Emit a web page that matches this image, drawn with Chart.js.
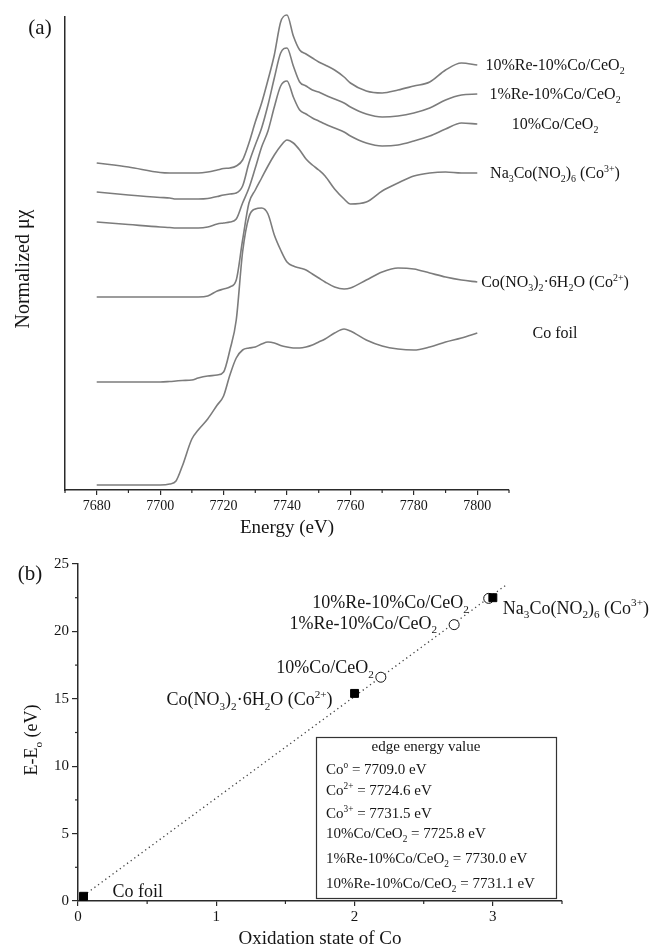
<!DOCTYPE html>
<html lang="en">
<head>
  <meta charset="UTF-8" />
  <title>Co K-edge XANES</title>
  <script src="https://cdn.jsdelivr.net/npm/chart.js"></script>
  <style>
    body { margin: 0; background: #fff; }
    canvas { position: absolute; left: 0; }
    #panelA { top: 0; }
    #panelB { top: 540px; }
  </style>
</head>
<body>

<canvas id="panelA" width="656" height="540"></canvas>
<canvas id="panelB" width="656" height="409"></canvas>

<script>
  // ---- (a) XANES spectra, stacked (normalized mu + offset, a.u.) ----
  const energy = [7680, 7690, 7700, 7703, 7705, 7707, 7710, 7712, 7715, 7718, 7720, 7722, 7724, 7726, 7728, 7730, 7732, 7734, 7736, 7738,
                  7740, 7742, 7744, 7746, 7748, 7750, 7752, 7755, 7758, 7760, 7765, 7770, 7775, 7780, 7785, 7790, 7795, 7800];
  const re10Co10 = [3.27, 3.23, 3.175, 3.17, 3.17, 3.17, 3.17, 3.17, 3.18, 3.20, 3.215, 3.22, 3.24, 3.30, 3.47, 3.68, 3.87, 4.10, 4.35, 4.68,
                    4.75, 4.54, 4.40, 4.36, 4.32, 4.28, 4.25, 4.20, 4.13, 4.07, 3.99, 3.97, 4.00, 4.04, 4.08, 4.20, 4.27, 4.25];
  const re1Co10 = [2.98, 2.95, 2.925, 2.92, 2.91, 2.91, 2.91, 2.91, 2.915, 2.935, 2.95, 2.96, 2.97, 3.04, 3.27, 3.45, 3.62, 3.85, 4.12, 4.37,
                   4.42, 4.24, 4.08, 4.04, 4.00, 3.98, 3.95, 3.91, 3.87, 3.83, 3.76, 3.73, 3.74, 3.77, 3.82, 3.90, 3.95, 3.96];
  const co10 = [2.68, 2.655, 2.63, 2.625, 2.62, 2.62, 2.62, 2.62, 2.63, 2.66, 2.67, 2.68, 2.71, 2.87, 3.02, 3.22, 3.43, 3.59, 3.83, 4.04,
                4.09, 3.93, 3.80, 3.76, 3.72, 3.69, 3.66, 3.62, 3.58, 3.54, 3.47, 3.44, 3.45, 3.49, 3.54, 3.61, 3.67, 3.66];
  const naCo = [1.93, 1.93, 1.93, 1.93, 1.93, 1.93, 1.93, 1.93, 1.94, 1.99, 2.01, 2.03, 2.10, 2.50, 2.87, 3.00, 3.12, 3.24, 3.35, 3.44,
                3.50, 3.47, 3.40, 3.31, 3.25, 3.20, 3.14, 3.01, 2.91, 2.86, 2.88, 2.99, 3.07, 3.14, 3.17, 3.18, 3.17, 3.17];
  const coNitrate = [1.08, 1.08, 1.08, 1.085, 1.09, 1.095, 1.10, 1.12, 1.14, 1.15, 1.18, 1.40, 1.70, 2.38, 2.73, 2.81, 2.82, 2.76, 2.55, 2.40,
                     2.28, 2.24, 2.22, 2.20, 2.16, 2.12, 2.08, 2.03, 2.01, 2.02, 2.10, 2.18, 2.22, 2.21, 2.17, 2.13, 2.10, 2.08];
  const coFoil = [0.05, 0.05, 0.05, 0.06, 0.09, 0.24, 0.51, 0.60, 0.71, 0.85, 0.94, 1.15, 1.32, 1.40, 1.42, 1.43, 1.46, 1.48, 1.47, 1.445,
                  1.43, 1.42, 1.42, 1.43, 1.45, 1.48, 1.51, 1.57, 1.61, 1.59, 1.50, 1.44, 1.41, 1.40, 1.43, 1.48, 1.52, 1.57];
  const spectrumNames = ['10%Re-10%Co/CeO_2', '1%Re-10%Co/CeO_2', '10%Co/CeO_2',
                         'Na_3Co(NO_2)_6 (Co^{3+})', 'Co(NO_3)_2·6H_2O (Co^{2+})', 'Co foil'];
  const energyTicks = [7680, 7700, 7720, 7740, 7760, 7780, 7800];
  const energyMinor = [7670, 7690, 7710, 7730, 7750, 7770, 7790, 7810];

  // ---- (b) edge shift vs oxidation state ----
  const refNames = ['Co foil', 'Co(NO_3)_2·6H_2O (Co^{2+})', 'Na_3Co(NO_2)_6 (Co^{3+})'];
  const refOx = [0.04, 2.0, 3.0];
  const refShift = [0.35, 15.4, 22.5];
  const catNames = ['10%Co/CeO_2', '1%Re-10%Co/CeO_2', '10%Re-10%Co/CeO_2'];
  const catOx = [2.19, 2.72, 2.97];
  const catShift = [16.6, 20.5, 22.45];
  const fitOx = [0.04, 3.09];
  const fitShift = [0.4, 23.4];
  const edgeNames = ['Co^o', 'Co^{2+}', 'Co^{3+}', '10%Co/CeO_2', '1%Re-10%Co/CeO_2', '10%Re-10%Co/CeO_2'];
  const edgeEnergy = [7709.0, 7724.6, 7731.5, 7725.8, 7730.0, 7731.1];
  const oxTicks = [0, 1, 2, 3];
  const oxMinor = [0.5, 1.5, 2.5, 3.5];
  const shiftTicks = [0, 5, 10, 15, 20, 25];
  const shiftMinor = [2.5, 7.5, 12.5, 17.5, 22.5];

  const FONT = '"Liberation Serif", "Times New Roman", serif';
  const INK = '#151515';
  const AXIS = '#2a2a2a';
  Chart.defaults.font.family = FONT;
  Chart.defaults.color = INK;

  // text with _sub and ^sup pieces
  function parseRich(str) {
    const segs = [];
    let buf = '', i = 0;
    while (i < str.length) {
      const c = str[i];
      if (c === '_' || c === '^') {
        if (buf) { segs.push({ t: buf, k: 0 }); buf = ''; }
        let txt;
        if (str[i + 1] === '{') {
          const j = str.indexOf('}', i);
          txt = str.slice(i + 2, j);
          i = j + 1;
        } else {
          txt = str[i + 1];
          i += 2;
        }
        segs.push({ t: txt, k: c === '_' ? -1 : 1 });
      } else {
        buf += c;
        i++;
      }
    }
    if (buf) segs.push({ t: buf, k: 0 });
    return segs;
  }

  function drawRich(ctx, str, x, y, size, align, rotate) {
    const segs = parseRich(str);
    const small = size * 0.62;
    let w = 0;
    segs.forEach(s => {
      ctx.font = (s.k ? small : size) + 'px ' + FONT;
      s.w = ctx.measureText(s.t).width;
      w += s.w;
    });
    ctx.save();
    ctx.translate(x, y);
    if (rotate) ctx.rotate(-Math.PI / 2);
    let cx = align === 'center' ? -w / 2 : align === 'right' ? -w : 0;
    ctx.textAlign = 'left';
    ctx.textBaseline = 'alphabetic';
    ctx.fillStyle = INK;
    const base = size * 0.33;
    segs.forEach(s => {
      ctx.font = (s.k ? small : size) + 'px ' + FONT;
      const dy = s.k === -1 ? size * 0.26 : s.k === 1 ? -size * 0.4 : 0;
      ctx.fillText(s.t, cx, base + dy);
      cx += s.w;
    });
    ctx.restore();
  }

  function tickLine(ctx, x1, y1, x2, y2) {
    ctx.beginPath();
    ctx.moveTo(x1, y1);
    ctx.lineTo(x2, y2);
    ctx.stroke();
  }

  const axisGrid = { display: true, drawOnChartArea: false, drawTicks: true, tickLength: 5, color: AXIS, lineWidth: 1.2 };
  const axisBorder = { display: true, color: AXIS, width: 1.5 };
  const plainLabel = v => String(v);

  // Grafico (a)
  const spectra = [re10Co10, re1Co10, co10, naCo, coNitrate, coFoil];
  new Chart(document.getElementById('panelA'), {
    type: 'line',
    data: {
      datasets: spectra.map((s, i) => ({
        label: spectrumNames[i],
        data: s.map((v, j) => ({ x: energy[j], y: v })),
        borderColor: '#7c7c7c',
        borderWidth: 1.6,
        pointRadius: 0,
        cubicInterpolationMode: 'monotone',
        clip: false
      }))
    },
    options: {
      responsive: false,
      animation: false,
      layout: { padding: { top: 17, right: 147, left: 0, bottom: 0 } },
      plugins: { legend: { display: false }, tooltip: { enabled: false } },
      scales: {
        x: {
          type: 'linear', min: 7670, max: 7810,
          afterBuildTicks: s => { s.ticks = energyTicks.map(v => ({ value: v })); },
          afterFit: s => { s.height = 50; },
          ticks: { font: { size: 14 }, color: INK, padding: 3, maxRotation: 0, autoSkip: false, callback: plainLabel },
          grid: axisGrid,
          border: axisBorder
        },
        y: {
          min: 0, max: 4.73,
          afterFit: s => { s.width = 65; },
          ticks: { display: false },
          grid: { display: false },
          border: axisBorder
        }
      }
    },
    plugins: [{
      id: 'decorA',
      afterDraw(chart) {
        const { ctx, chartArea: ca, scales: { x, y } } = chart;
        ctx.save();
        ctx.strokeStyle = AXIS;
        ctx.lineWidth = 1.2;
        energyMinor.forEach(v => {
          const px = x.getPixelForValue(v);
          tickLine(ctx, px, ca.bottom, px, ca.bottom + 3);
        });
        chart.data.datasets.forEach((ds, i) => {
          const last = ds.data[ds.data.length - 1];
          drawRich(ctx, spectrumNames[i], ca.right + 46, y.getPixelForValue(last.y), 16, 'center');
        });
        drawRich(ctx, 'Energy (eV)', (ca.left + ca.right) / 2, 527, 19, 'center');
        drawRich(ctx, 'Normalized μχ', 22, 269, 20, 'center', true);
        drawRich(ctx, '(a)', 40, 27, 21, 'center');
        ctx.restore();
      }
    }]
  });

  // Grafico (b)
  const refLabelPos = [[29, -5, 'left'], [-22, 6, 'right'], [10, 10, 'left']];
  const catLabelPos = [[-7, -10, 'right'], [-17, -2, 'right'], [-20, 4, 'right']];

  new Chart(document.getElementById('panelB'), {
    type: 'scatter',
    data: {
      datasets: [
        {
          label: 'fit',
          data: fitOx.map((v, i) => ({ x: v, y: fitShift[i] })),
          showLine: true,
          borderColor: '#444',
          borderWidth: 1.3,
          borderDash: [1.3, 3.2],
          pointRadius: 0,
          order: 3,
          clip: false
        },
        {
          label: 'references',
          data: refOx.map((v, i) => ({ x: v, y: refShift[i] })),
          pointStyle: 'rect',
          pointRadius: 5.6,
          backgroundColor: '#000',
          borderColor: '#000',
          borderWidth: 1,
          order: 1,
          clip: false
        },
        {
          label: 'catalysts',
          data: catOx.map((v, i) => ({ x: v, y: catShift[i] })),
          pointStyle: 'circle',
          pointRadius: 5,
          backgroundColor: '#fff',
          borderColor: '#111',
          borderWidth: 1,
          order: 2,
          clip: false
        }
      ]
    },
    options: {
      responsive: false,
      animation: false,
      layout: { padding: { top: 24, right: 94, left: 0, bottom: 0 } },
      plugins: { legend: { display: false }, tooltip: { enabled: false } },
      scales: {
        x: {
          type: 'linear', min: 0, max: 3.5,
          afterBuildTicks: s => { s.ticks = oxTicks.map(v => ({ value: v })); },
          afterFit: s => { s.height = 48; },
          ticks: { font: { size: 15 }, color: INK, padding: 2, maxRotation: 0, autoSkip: false, callback: plainLabel },
          grid: axisGrid,
          border: axisBorder
        },
        y: {
          min: 0, max: 25,
          afterBuildTicks: s => { s.ticks = shiftTicks.map(v => ({ value: v })); },
          afterFit: s => { s.width = 78; },
          ticks: { font: { size: 15 }, color: INK, padding: 3, callback: plainLabel },
          grid: { ...axisGrid, tickLength: 6 },
          border: axisBorder
        }
      }
    },
    plugins: [{
      id: 'decorB',
      afterDraw(chart) {
        const { ctx, chartArea: ca, scales: { x, y } } = chart;
        ctx.save();
        ctx.strokeStyle = AXIS;
        ctx.lineWidth = 1.2;
        oxMinor.forEach(v => {
          const px = x.getPixelForValue(v);
          tickLine(ctx, px, ca.bottom, px, ca.bottom + 3);
        });
        shiftMinor.forEach(v => {
          const py = y.getPixelForValue(v);
          tickLine(ctx, ca.left, py, ca.left - 3, py);
        });

        // point labels
        const refMeta = chart.getDatasetMeta(1).data;
        const catMeta = chart.getDatasetMeta(2).data;
        refNames.forEach((n, i) => {
          const p = refLabelPos[i];
          drawRich(ctx, n, refMeta[i].x + p[0], refMeta[i].y + p[1], 18, p[2]);
        });
        catNames.forEach((n, i) => {
          const p = catLabelPos[i];
          drawRich(ctx, n, catMeta[i].x + p[0], catMeta[i].y + p[1], 18, p[2]);
        });

        // edge energy box
        ctx.strokeStyle = '#333';
        ctx.lineWidth = 1.2;
        ctx.strokeRect(316.5, 197.5, 240, 161);
        drawRich(ctx, 'edge energy value', 426, 206, 15, 'center');
        const rowY = [229, 250, 273, 293, 318, 343];
        edgeNames.forEach((n, i) => {
          drawRich(ctx, n + ' = ' + edgeEnergy[i].toFixed(1) + ' eV', 326, rowY[i], 15, 'left');
        });

        drawRich(ctx, 'Oxidation state of Co', (ca.left + ca.right) / 2, 398, 19, 'center');
        drawRich(ctx, 'E-E_o (eV)', 31, 200, 18, 'center', true);
        drawRich(ctx, '(b)', 30, 33, 21, 'center');
        ctx.restore();
      }
    }]
  });
</script>

</body>
</html>
